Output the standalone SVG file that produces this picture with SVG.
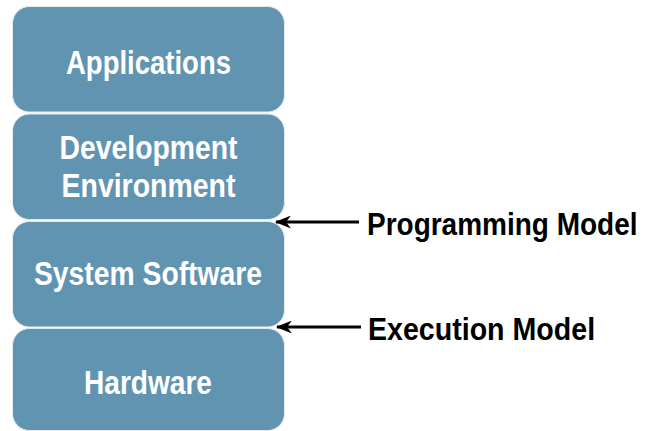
<svg xmlns="http://www.w3.org/2000/svg" width="646" height="431" viewBox="0 0 646 431">
  <style>
    .layer rect { fill: #6194b1; stroke: #e3eaef; stroke-width: 1; }
    .layer text { fill: #ffffff; font-family: "Liberation Sans Narrow", "Liberation Sans", Arial, sans-serif; font-weight: bold; font-size: 34px; text-anchor: middle; }
    .label { fill: #000000; font-family: "Liberation Sans", Arial, sans-serif; font-weight: bold; }
    .link { stroke: #000000; stroke-width: 3; fill: none; }
  </style>
  <defs>
    <!-- barbed arrowhead, tip at the line's end -->
    <marker id="head" viewBox="0 0 16 13" refX="15" refY="6.5" markerWidth="16" markerHeight="13" markerUnits="userSpaceOnUse" orient="auto">
      <path d="M16,6.5 L0,0 L5,6.5 L0,13 Z" fill="#000000"/>
    </marker>
  </defs>
  <rect width="646" height="431" fill="#ffffff"/>

  <g id="applications" class="layer">
    <rect x="12.5" y="6.5" width="272" height="105.5" rx="17"/>
    <text x="148.5" y="73.5" textLength="165" lengthAdjust="spacingAndGlyphs">Applications</text>
  </g>
  <g id="development-environment" class="layer">
    <rect x="12.5" y="114" width="272" height="105.5" rx="17"/>
    <text x="148.5" y="159" textLength="178" lengthAdjust="spacingAndGlyphs">Development</text>
    <text x="148.5" y="197" textLength="174" lengthAdjust="spacingAndGlyphs">Environment</text>
  </g>
  <g id="system-software" class="layer">
    <rect x="12.5" y="221.5" width="272" height="105.5" rx="17"/>
    <text x="148" y="285" textLength="228" lengthAdjust="spacingAndGlyphs">System Software</text>
  </g>
  <g id="hardware" class="layer">
    <rect x="12.5" y="328.5" width="272" height="102" rx="17"/>
    <text x="148" y="394" textLength="128" lengthAdjust="spacingAndGlyphs">Hardware</text>
  </g>

  <g id="connectors">
    <line class="link" x1="359" y1="222" x2="276" y2="222" marker-end="url(#head)"/>
    <line class="link" x1="361" y1="327" x2="277" y2="327" marker-end="url(#head)"/>
  </g>

  <!-- condensed labels: narrower size, stretched vertically -->
  <g id="programming-model">
    <text class="label" transform="translate(367,235) scale(1,1.143)" font-size="28">Programming Model</text>
  </g>
  <g id="execution-model">
    <text class="label" transform="translate(368,340) scale(1,1.119)" font-size="28.6">Execution Model</text>
  </g>
</svg>
